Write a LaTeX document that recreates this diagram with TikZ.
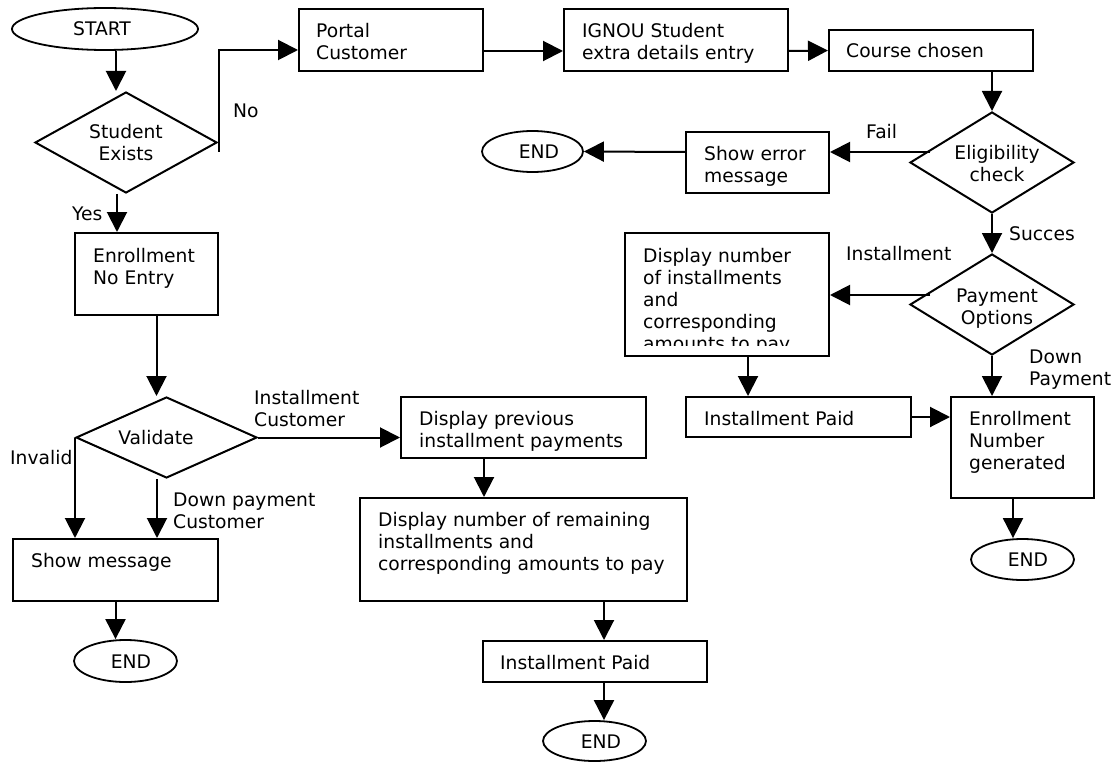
\documentclass[tikz,border=0pt]{standalone}
\usepackage{fontspec}
\setmainfont{DejaVu Sans}
\usetikzlibrary{shapes.geometric,arrows.meta}
\newcommand\ff{\fontsize{18.7}{22}\selectfont}
\begin{document}
\begin{tikzpicture}[x=1pt,y=-1pt,
  sz/.style 2 args={minimum width=#1pt, minimum height=#2pt},
  box/.style={draw, line width=2pt, rectangle, inner sep=0pt},
  term/.style={draw, line width=1.8pt, ellipse, inner sep=0pt},
  dec/.style={draw, line width=2pt, diamond, inner sep=0pt},
  arr/.style={line width=2pt, -{Triangle[length=20pt,width=20pt]}},
  tl/.style={anchor=north west, yshift=15.4pt, inner sep=0pt, align=left, font=\ff},
  tc/.style={anchor=north, yshift=15.4pt, inner sep=0pt, align=center, font=\ff},
]
\useasboundingbox[fill=white] (0,0) rectangle (1113,762);

% ---------- shapes ----------
\node[term, sz={186}{42}] (start) at (105,29) {};
\node[dec, sz={182}{101}] (se) at (126,142.5) {};
\node[box, sz={184}{62}] (portal) at (391,40) {};
\node[box, sz={224}{62}] (ignou) at (676,40) {};
\node[box, sz={204}{41}] (course) at (931,50.5) {};
\node[box, sz={143}{82}] (enrno) at (146.5,274) {};
\node[dec, sz={181}{81}] (val) at (166.5,437.5) {};
\node[box, sz={205}{62}] (showmsg) at (115.5,570) {};
\node[term, sz={103}{42}] (end1) at (125.5,661) {};
\node[box, sz={245}{61}] (dprev) at (523.5,427.5) {};
\node[box, sz={327}{103}] (drem) at (523.5,549.5) {};
\node[box, sz={224}{41}] (ipaid1) at (595,661.5) {};
\node[term, sz={103}{40}] (end2) at (594.5,741) {};
\node[dec, sz={164}{101}] (elig) at (992,162.5) {};
\node[box, sz={143}{61}] (showerr) at (757.5,162.5) {};
\node[term, sz={101}{41}] (end3) at (532.5,151.5) {};
\node[dec, sz={164}{101}] (pay) at (992,304.5) {};
\node[box, sz={204}{123}] (dinst) at (727,294.5) {};
\node[box, sz={225}{40}] (ipaid2) at (798.5,417) {};
\node[box, sz={143}{101}] (enrgen) at (1022.5,447.5) {};
\node[term, sz={103}{41}] (end4) at (1022.5,559.5) {};

% ---------- texts ----------
\node[tc] (tstart) at (102,35) {\strut START};
\node[tc] (tse) at (126,138) {\strut Student\\Exists};
\node[tl] (tportal) at (316,37) {\strut Portal\\Customer};
\node[tl] (tignou) at (582,37) {\strut IGNOU Student\\extra details entry};
\node[tl] (tcourse) at (846,57) {\strut Course chosen};
\node[tl] (tenrno) at (93,262) {\strut Enrollment\\No Entry};
\node[tc] (tval) at (156,444) {\strut Validate};
\node[tl] (tshowmsg) at (31,567) {\strut Show message};
\node[tc] (tend1) at (131,668) {\strut END};
\node[tl] (tdprev) at (419,425) {\strut Display previous\\installment payments};
\node[tl] (tdrem) at (378,526) {\strut Display number of remaining\\installments and\\corresponding amounts to pay};
\node[tl] (tipaid1) at (500,669) {\strut Installment Paid};
\node[tc] (tend2) at (601,748) {\strut END};
\node[tc] (tend3) at (539,158) {\strut END};
\node[tl] (tshowerr) at (704,160) {\strut Show error\\message};
\begin{scope}
  \clip (625,233) rectangle (829,345);
  \node[tl] (tdinst) at (643,262) {\strut Display number\\of installments\\and\\corresponding\\amounts to pay};
\end{scope}
\node[tc] (telig) at (997,159) {\strut Eligibility\\check};
\node[tc] (tpay) at (997,302) {\strut Payment\\Options};
\node[tl] (tipaid2) at (704,425) {\strut Installment Paid};
\node[tl] (tenrgen) at (969,425) {\strut Enrollment\\Number\\generated};
\node[tc] (tend4) at (1028,566) {\strut END};

% ---------- edge labels ----------
\node[tl] (lno) at (233,117) {\strut No};
\node[tl] (lyes) at (72,220) {\strut Yes};
\node[tl] (linstc) at (254,404) {\strut Installment\\Customer};
\node[tl] (linv) at (10,464) {\strut Invalid};
\node[tl] (ldown) at (173,506) {\strut Down payment\\Customer};
\node[tl] (lfail) at (866,138) {\strut Fail};
\node[tl] (lsucc) at (1009,240) {\strut Succes};
\node[tl] (linst) at (846,260) {\strut Installment};
\node[tl] (ldp) at (1029,363) {\strut Down\\Payment};

% ---------- connectors ----------
\draw[arr] ([xshift=11pt]start.south) -- ([xshift=-10pt]se.north);
\draw[arr] ([shift={(1pt,-9.5pt)}]se.east) |- ([yshift=-10pt]portal.west);
\draw[arr] ([yshift=-11pt]portal.east) -- ([yshift=-11pt]ignou.west);
\draw[arr] ([yshift=-11pt]ignou.east) -- (course.west);
\draw[arr] (course.south -| elig.north) -- (elig.north);
\coordinate (cfail) at ([shift={(21pt,10.5pt)}]elig.west);
\draw[arr] (cfail) -- (cfail -| showerr.east);
\draw[arr] ([yshift=10.5pt]showerr.west) -- (end3.east);
\draw[arr] (elig.south) -- (pay.north);
\coordinate (cinst) at ([shift={(21pt,9.5pt)}]pay.west);
\draw[arr] (cinst) -- (cinst -| dinst.east);
\draw[arr] (pay.south) -- (pay.south |- enrgen.north);
\coordinate (cdi) at ([xshift=21pt]dinst.south);
\draw[arr] (cdi) -- (cdi |- ipaid2.north);
\draw[arr] (ipaid2.east) -- (ipaid2.east -| enrgen.west);
\coordinate (cen) at ([xshift=-9.5pt]enrgen.south);
\draw[arr] (cen) -- (cen |- end4.north);
\coordinate (cyes) at ([xshift=-9pt]se.south);
\draw[arr] (cyes) -- (cyes |- enrno.north);
\coordinate (cenr) at ([xshift=10pt]enrno.south);
\draw[arr] (cenr) -- (cenr |- val.north);
\draw[arr] (val.east) -- (val.east -| dprev.west);
\draw[arr] (val.west) -- (val.west |- showmsg.north);
\coordinate (cdp) at ([xshift=-9.5pt]val.south);
\draw[arr] (cdp) -- (cdp |- showmsg.north);
\draw[arr] (showmsg.south) -- (showmsg.south |- end1.north);
\coordinate (cdprev) at ([xshift=-39.5pt]dprev.south);
\draw[arr] (cdprev) -- (cdprev |- drem.north);
\coordinate (cdrem) at ([xshift=80.5pt]drem.south);
\draw[arr] (cdrem) -- (cdrem |- ipaid1.north);
\coordinate (cip) at ([xshift=9pt]ipaid1.south);
\draw[arr] (cip) -- (cip |- end2.north);
\end{tikzpicture}
\end{document}
